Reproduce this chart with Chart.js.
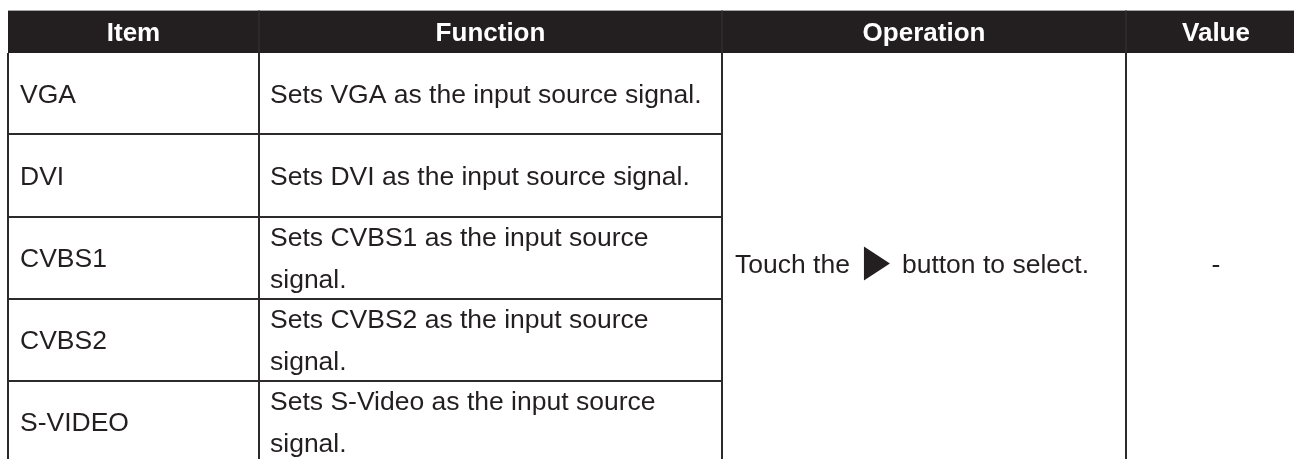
<!DOCTYPE html>
<html lang="en">
<head>
    <meta charset="UTF-8">
    <title>Input source settings</title>
    <script src="https://cdn.jsdelivr.net/npm/chart.js"></script>
    <style>
        html, body { margin: 0; padding: 0; background: #ffffff; }
        #table { display: block; }
    </style>
</head>
<body>
    <canvas id="table" width="1294" height="459"></canvas>

    <script>
        // table content
        const headers = ['Item', 'Function', 'Operation', 'Value'];
        const items = ['VGA', 'DVI', 'CVBS1', 'CVBS2', 'S-VIDEO'];
        const functions = [
            'Sets VGA as the input source signal.',
            'Sets DVI as the input source signal.',
            'Sets CVBS1 as the input source signal.',
            'Sets CVBS2 as the input source signal.',
            'Sets S-Video as the input source signal.'
        ];
        const operationParts = ['Touch the', 'button to select.'];
        const valueText = '-';

        // layout, in table units (one unit = one pixel of the window)
        const tableLeft = 8;
        const tableTop = 10;
        const colWidths = [251, 463, 404, 180];
        const rowHeights = [43, 81, 83, 82, 82, 82];
        const mergedTail = 11;   // the merged cells run on past the last row shown
        const lineGap = 42;

        const ink = '#231f20';
        const font = '"Liberation Sans", Arial, sans-serif';

        function edges(start, sizes) {
            const out = [start];
            sizes.forEach(s => out.push(out[out.length - 1] + s));
            return out;
        }

        function wrap(ctx, text, maxWidth) {
            const words = text.split(' ');
            const lines = [];
            let line = '';
            words.forEach(w => {
                const test = line ? line + ' ' + w : w;
                if (line && ctx.measureText(test).width > maxWidth) {
                    lines.push(line);
                    line = w;
                } else {
                    line = test;
                }
            });
            if (line) lines.push(line);
            return lines;
        }

        const tablePlugin = {
            id: 'tablePlugin',
            afterDraw(chart) {
                const ctx = chart.ctx;
                const px = v => chart.scales.x.getPixelForValue(v);
                const py = v => chart.scales.y.getPixelForValue(v);
                const cols = edges(tableLeft, colWidths);
                const rows = edges(tableTop, rowHeights);
                const bodyTop = rows[1];
                const bodyBottom = rows[rows.length - 1] + mergedTail;

                ctx.save();

                // header band
                ctx.fillStyle = ink;
                ctx.fillRect(px(cols[0]), py(rows[0]), px(cols[4]) - px(cols[0]), py(rows[1]) - py(rows[0]));
                ctx.fillStyle = '#a6a6a6';
                ctx.fillRect(px(cols[0]), py(rows[0]), px(cols[4]) - px(cols[0]), 1);
                ctx.fillStyle = '#383435';
                for (let c = 1; c < 4; c++) {
                    ctx.fillRect(px(cols[c]) - 0.5, py(rows[0]), 1, py(rows[1]) - py(rows[0]));
                }

                ctx.fillStyle = '#ffffff';
                ctx.font = 'bold 26px ' + font;
                ctx.textAlign = 'center';
                ctx.textBaseline = 'alphabetic';
                headers.forEach((h, i) => {
                    const cx = (px(cols[i]) + px(cols[i + 1])) / 2;
                    const cy = (py(rows[0]) + py(rows[1])) / 2;
                    ctx.fillText(h, cx, cy + 26 * 0.716 / 2);
                });

                // body grid
                ctx.strokeStyle = '#2c2a2b';
                ctx.lineWidth = 2;
                for (let c = 0; c < 4; c++) {
                    ctx.beginPath();
                    ctx.moveTo(px(cols[c]), py(bodyTop));
                    ctx.lineTo(px(cols[c]), py(bodyBottom));
                    ctx.stroke();
                }
                for (let r = 2; r < rows.length; r++) {
                    ctx.beginPath();
                    ctx.moveTo(px(cols[0]) - 1, py(rows[r]));
                    ctx.lineTo(px(cols[2]) + 1, py(rows[r]));
                    ctx.stroke();
                }

                // body text
                const size = 26.5;
                const capHalf = size * 0.716 / 2;
                ctx.font = size + 'px ' + font;
                ctx.fillStyle = ink;
                ctx.textAlign = 'left';

                items.forEach((item, i) => {
                    const cy = (py(rows[i + 1]) + py(rows[i + 2])) / 2;
                    ctx.fillText(item, px(cols[0]) + 12, cy + capHalf);

                    const lines = wrap(ctx, functions[i], px(cols[2]) - px(cols[1]) - 20);
                    lines.forEach((ln, k) => {
                        const y = cy - (lines.length - 1) * lineGap / 2 + k * lineGap + capHalf;
                        ctx.fillText(ln, px(cols[1]) + 11, y);
                    });
                });

                // merged operation cell with the arrow glyph
                const mid = (py(bodyTop) + py(bodyBottom)) / 2;
                let x = px(cols[2]) + 13;
                ctx.fillText(operationParts[0], x, mid + capHalf);
                x += ctx.measureText(operationParts[0]).width + 14;
                ctx.beginPath();
                ctx.moveTo(x, mid - 17);
                ctx.lineTo(x + 26, mid);
                ctx.lineTo(x, mid + 17);
                ctx.closePath();
                ctx.fill();
                x += 26 + 12;
                ctx.fillText(operationParts[1], x, mid + capHalf);

                // merged value cell
                ctx.textAlign = 'center';
                ctx.fillText(valueText, (px(cols[3]) + px(cols[4])) / 2, mid + capHalf);

                ctx.restore();
            }
        };

        new Chart(document.getElementById('table'), {
            type: 'scatter',
            data: { datasets: [{ data: [] }] },
            options: {
                responsive: false,
                animation: false,
                devicePixelRatio: 1,
                events: [],
                layout: { padding: 0 },
                plugins: { legend: { display: false }, tooltip: { enabled: false } },
                scales: {
                    x: { type: 'linear', min: 0, max: 1294, display: false },
                    y: { type: 'linear', min: 0, max: 459, reverse: true, display: false }
                }
            },
            plugins: [tablePlugin]
        });
    </script>
</body>
</html>
